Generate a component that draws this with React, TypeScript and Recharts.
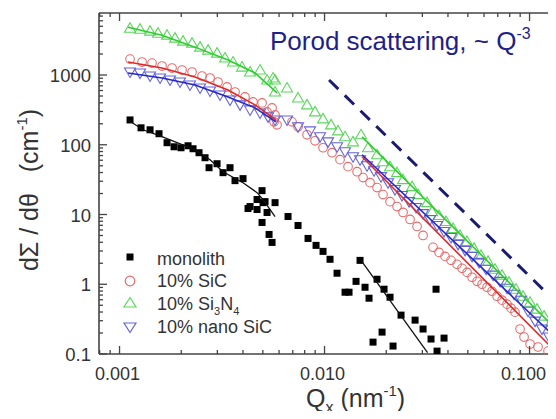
import React from 'react';
import { ScatterChart, Scatter, XAxis, YAxis } from 'recharts';

// axis ranges / ticks
const X_DOMAIN = [0.000794, 0.1346];
const Y_DOMAIN = [0.1, 7750];
const X_TICKS = [0.0008, 0.0009, 0.001, 0.002, 0.003, 0.004, 0.005, 0.006, 0.007, 0.008, 0.009,
  0.01, 0.02, 0.03, 0.04, 0.05, 0.06, 0.07, 0.08, 0.09, 0.1];
const X_LABELS: Record<string, string> = { '0.001': '0.001', '0.01': '0.010', '0.1': '0.100' };
const Y_TICKS = [0.1, 0.2, 0.3, 0.4, 0.5, 0.6, 0.7, 0.8, 0.9, 1, 2, 3, 4, 5, 6, 7, 8, 9,
  10, 20, 30, 40, 50, 60, 70, 80, 90, 100, 200, 300, 400, 500, 600, 700, 800, 900,
  1000, 2000, 3000, 4000, 5000, 6000, 7000];
const Y_LABELS: Record<string, string> = { '0.1': '0.1', '1': '1', '10': '10', '100': '100', '1000': '1000' };

// measured points [Q, dSigma/dOmega]
const monolith = [
  [0.001125, 227], [0.001273, 175], [0.001409, 164], [0.001558, 144], [0.001705, 107], [0.001845, 93.6],
  [0.001995, 90.6], [0.002159, 96.8], [0.002283, 87.7], [0.002442, 76.9], [0.002613, 65.2], [0.002733, 46.9],
  [0.00299, 53.5], [0.003198, 39.8], [0.003459, 46.9], [0.003659, 30.6], [0.004003, 32.7], [0.004234, 12.2],
  [0.004331, 13.0], [0.004686, 16.4], [0.004686, 11.8], [0.004956, 22.0], [0.004956, 7.69], [0.005012, 14.8],
  [0.005126, 15.3], [0.005243, 10.7], [0.005363, 5.18], [0.005546, 3.98], [0.005736, 14.8], [0.006637, 9.36],
  [0.007425, 6.96], [0.008309, 4.54], [0.00909, 3.61], [0.009833, 2.96], [0.010636, 2.28], [0.011508, 1.44],
  [0.012589, 0.769], [0.013167, 0.769], [0.014245, 1.10], [0.014899, 2.20], [0.015759, 0.906], [0.016484, 0.631],
  [0.01724, 0.148], [0.018036, 1.18], [0.01908, 0.206], [0.01951, 0.849], [0.020867, 0.652], [0.021584, 0.130],
  [0.023615, 0.361], [0.027645, 0.306], [0.03024, 0.228], [0.033073, 0.164], [0.034985, 0.849], [0.035383, 0.110],
  [0.038275, 0.169],
];
const sic = [
  [0.001125, 1693], [0.001288, 1535], [0.00144, 1484], [0.001612, 1345], [0.001803, 1259], [0.002018, 1179],
  [0.002258, 1104], [0.002526, 968], [0.002764, 906], [0.003024, 794], [0.003345, 674], [0.003659, 571],
  [0.004094, 485], [0.004479, 411], [0.004956, 398], [0.005243, 296], [0.005546, 338], [0.005736, 268],
  [0.005672, 213], [0.005866, 193], [0.006939, 213], [0.007425, 181], [0.008216, 139], [0.008989, 114],
  [0.009833, 90.6], [0.01088, 76.9], [0.0119, 61.1], [0.01302, 48.5], [0.01441, 41.1], [0.01541, 33.8],
  [0.01667, 28.6], [0.01804, 24.3], [0.01929, 19.3], [0.02087, 15.3], [0.02258, 13.0], [0.02415, 10.7],
  [0.02613, 8.49], [0.02827, 6.74], [0.03024, 5.01], [0.03383, 3.38], [0.03618, 2.86], [0.03871, 2.51],
  [0.0414, 2.20], [0.04429, 1.93], [0.04685, 1.69], [0.04956, 1.48], [0.05243, 1.26], [0.05546, 1.10],
  [0.05866, 1.0], [0.06205, 0.906], [0.06561, 0.794], [0.06939, 0.674], [0.07342, 0.591], [0.07767, 0.518],
  [0.08124, 0.454], [0.08492, 0.398], [0.08989, 0.228], [0.09401, 0.175], [0.1006, 0.139], [0.11, 0.126],
  [0.1231, 0.110],
];
const si3n4 = [
  [0.001125, 4690], [0.001259, 4538], [0.001409, 4254], [0.001541, 3981], [0.001705, 3728], [0.001865, 3381],
  [0.002041, 3060], [0.002258, 2864], [0.00247, 2512], [0.002703, 2275], [0.00299, 2061], [0.00327, 1750],
  [0.003578, 1535], [0.003959, 1300], [0.004331, 1104], [0.004847, 1179], [0.005243, 849], [0.005609, 906],
  [0.005736, 571], [0.005736, 849], [0.006563, 652], [0.007425, 469], [0.008216, 373], [0.008989, 296],
  [0.009833, 235], [0.010757, 193], [0.01164, 158], [0.01259, 130], [0.01377, 110], [0.01507, 139],
  [0.0163, 90.6], [0.01804, 71.9], [0.01929, 57.1], [0.02087, 48.5], [0.02258, 39.8], [0.02415, 31.6],
  [0.02672, 25.1], [0.02858, 19.3], [0.03162, 14.8], [0.03345, 11.0], [0.03618, 9.68], [0.03914, 7.94],
  [0.04236, 6.31], [0.04581, 5.01], [0.04956, 4.11], [0.05363, 3.27], [0.058, 2.59], [0.06276, 2.13],
  [0.06787, 1.64], [0.07342, 1.35], [0.07943, 1.07], [0.08592, 0.849], [0.09296, 0.674], [0.1006, 0.553],
  [0.1088, 0.44], [0.1177, 0.349], [0.1273, 0.286],
];
const nanoSic = [
  [0.001125, 1104], [0.001259, 1068], [0.001409, 968], [0.001576, 906], [0.001763, 849], [0.001973, 794],
  [0.002207, 719], [0.00247, 652], [0.002764, 591], [0.003092, 518], [0.003459, 439], [0.003871, 373],
  [0.004331, 316], [0.004847, 286], [0.005302, 251], [0.005736, 227], [0.006563, 227], [0.007425, 181],
  [0.008497, 158], [0.009506, 130], [0.0104, 110], [0.01151, 93.6], [0.01259, 79.4], [0.01377, 67.4],
  [0.0149, 61.1], [0.01612, 50.1], [0.01744, 42.5], [0.01886, 34.9], [0.02041, 28.6], [0.02207, 22.8],
  [0.02388, 18.7], [0.02584, 15.3], [0.02795, 12.6], [0.03024, 10.3], [0.0327, 8.49], [0.03538, 6.96],
  [0.03827, 5.71], [0.0414, 4.69], [0.04479, 3.73], [0.04847, 3.06], [0.05243, 2.51], [0.05672, 2.06],
  [0.06135, 1.64], [0.06637, 1.35], [0.07179, 1.10], [0.07767, 0.877], [0.08402, 0.719], [0.0909, 0.591],
  [0.09833, 0.411], [0.1064, 0.296], [0.1151, 0.228], [0.1245, 0.175],
];

// fitted curves
const monolithFitLo = [[0.0011, 227], [0.001302, 164], [0.001576, 134], [0.001908, 107], [0.002283, 87.7],
  [0.002764, 61.1], [0.003198, 41.1], [0.004003, 28.6], [0.004686, 20.6], [0.005012, 16.4], [0.005736, 9.36]];
const monolithFitHi = [[0.01507, 2.2], [0.0318, 0.105]];
const si3n4FitLo = [[0.0011, 4850], [0.001612, 3728], [0.002335, 2512], [0.003382, 1638], [0.004581, 1068], [0.005866, 553]];
const sicFitLo = [[0.0011, 1535], [0.001612, 1259], [0.002335, 936], [0.003382, 611], [0.004581, 373], [0.0058, 228]];
const nanoFitLo = [[0.0011, 1068], [0.001612, 906], [0.002335, 719], [0.003382, 485], [0.004581, 338], [0.0058, 213]];
const si3n4FitHi = [[0.01524, 130], [0.1302, 0.251]];
const sicFitHi = [[0.01524, 67.4], [0.1302, 0.118]];
const nanoFitHi = [[0.01524, 71.9], [0.1302, 0.187]];
const porod = [[0.01052, 849], [0.1302, 0.61]];

const pts = (a: number[][]) => a.map(([q, I]) => ({ q, I }));

const FONT = '"Liberation Sans", Arial, Helvetica, sans-serif';
const AXIS = '#444';
const TXT = '#333';

const isMajor = (v: number) => Math.abs(Math.log10(v) - Math.round(Math.log10(v))) < 1e-6;

const BottomTick = (p: any) => {
  const v = p.payload.value;
  const major = isMajor(v);
  const lab = X_LABELS[String(v)];
  // last label sits close to the cut-off right edge
  const shift = v === 0.1 ? -6 : -2;
  return (
    <g>
      <line x1={p.x} x2={p.x} y1={p.y} y2={p.y - (major ? 8 : 4)} stroke={AXIS} strokeWidth={1.3} />
      {lab && (
        <text x={p.x + shift} y={p.y + 26} textAnchor="middle" fontSize={18} fontFamily={FONT} fill={TXT}>{lab}</text>
      )}
    </g>
  );
};

const TopTick = (p: any) => {
  const major = isMajor(p.payload.value);
  return <line x1={p.x} x2={p.x} y1={p.y} y2={p.y + (major ? 8 : 4)} stroke={AXIS} strokeWidth={1.3} />;
};

const LeftTick = (p: any) => {
  const v = p.payload.value;
  const major = isMajor(v);
  const lab = Y_LABELS[String(v)];
  return (
    <g>
      <line x1={p.x} x2={p.x + (major ? 8 : 4)} y1={p.y} y2={p.y} stroke={AXIS} strokeWidth={1.3} />
      {lab && (
        <text x={p.x - 8} y={p.y + 7} textAnchor="end" fontSize={18.5} fontFamily={FONT} fill={TXT}>{lab}</text>
      )}
    </g>
  );
};

const Square = (p: any) => <rect x={p.cx - 3.5} y={p.cy - 3.5} width={7} height={7} fill="#000" />;
const Ring = (p: any) => <circle cx={p.cx} cy={p.cy} r={4.3} fill="none" stroke="#e86a6a" strokeWidth={1.1} />;
const TriUp = (p: any) => (
  <path d={`M${p.cx},${p.cy - 5.5}L${p.cx + 5.5},${p.cy + 4}L${p.cx - 5.5},${p.cy + 4}Z`} fill="none" stroke="#5cd65c" strokeWidth={1.1} />
);
const TriDown = (p: any) => (
  <path d={`M${p.cx},${p.cy + 5.5}L${p.cx + 5.5},${p.cy - 4}L${p.cx - 5.5},${p.cy - 4}Z`} fill="none" stroke="#6464d8" strokeWidth={1.1} />
);
const NoShape = () => <g />;

const fit = (data: number[][], stroke: string, extra: any = {}) => (
  <Scatter data={pts(data)} shape={NoShape} line={{ stroke, strokeWidth: 1.6, ...extra }} isAnimationActive={false} legendType="none" />
);

export default function App() {
  return (
    <div style={{ position: 'relative', width: 548, height: 411, overflow: 'hidden', marginBottom: -8 }}>
      <ScatterChart width={548} height={411} margin={{ top: 0, right: 0, bottom: 0, left: 0 }}>
        <XAxis dataKey="q" type="number" scale="log" domain={X_DOMAIN} allowDataOverflow ticks={X_TICKS} interval={0}
          tickSize={0} tickMargin={0} tickLine={false} height={65} axisLine={{ stroke: AXIS, strokeWidth: 1.6 }} tick={BottomTick} />
        <XAxis xAxisId="top" orientation="top" dataKey="q" type="number" scale="log" domain={X_DOMAIN} allowDataOverflow ticks={X_TICKS} interval={0}
          tickSize={0} tickMargin={0} tickLine={false} height={5} axisLine={{ stroke: AXIS, strokeWidth: 1.6 }} tick={TopTick} />
        <YAxis dataKey="I" type="number" scale="log" domain={Y_DOMAIN} allowDataOverflow ticks={Y_TICKS} interval={0}
          tickSize={0} tickMargin={0} tickLine={false} width={91} axisLine={{ stroke: AXIS, strokeWidth: 1.6 }} tick={LeftTick} />
        <Scatter data={pts(monolith)} shape={Square} isAnimationActive={false} />
        <Scatter data={pts(sic)} shape={Ring} isAnimationActive={false} />
        <Scatter data={pts(si3n4)} shape={TriUp} isAnimationActive={false} />
        <Scatter data={pts(nanoSic)} shape={TriDown} isAnimationActive={false} />
        {fit(monolithFitLo, '#111', { strokeWidth: 1.3 })}
        {fit(monolithFitHi, '#111', { strokeWidth: 1.3 })}
        {fit(si3n4FitLo, '#2fcc2f')}
        {fit(sicFitLo, '#e02828')}
        {fit(nanoFitLo, '#2626c8')}
        {fit(si3n4FitHi, '#2fcc2f')}
        {fit(sicFitHi, '#e02828')}
        {fit(nanoFitHi, '#2626c8')}
        {fit(porod, '#1c1c6e', { strokeWidth: 3, strokeDasharray: '13 9' })}
      </ScatterChart>
      <svg width={548} height={411} style={{ position: 'absolute', left: 0, top: 0, pointerEvents: 'none' }} fontFamily={FONT}>
        <text x={262} y={42} fontSize={26} fill="#1f1f8a">
          Porod scattering, ~ Q<tspan dy={-11} fontSize={16}>-3</tspan>
        </text>
        <g fontSize={18} fill={TXT}>
          <rect x={118.5} y={245.5} width={7} height={7} fill="#000" />
          <text x={149} y={257}>monolith</text>
          <circle cx={122} cy={273} r={4.8} fill="none" stroke="#e86a6a" strokeWidth={1.2} />
          <text x={149} y={279}>10% SiC</text>
          <path d="M122,289.5L128,299L116,299Z" fill="none" stroke="#5cd65c" strokeWidth={1.2} />
          <text x={149} y={302}>10% Si<tspan dy={5} fontSize={11}>3</tspan><tspan dy={-5}>N</tspan><tspan dy={5} fontSize={11}>4</tspan></text>
          <path d="M122,324.5L128,315L116,315Z" fill="none" stroke="#6464d8" strokeWidth={1.2} />
          <text x={149} y={325}>10% nano SiC</text>
        </g>
        <text x={298} y={399} fontSize={25} fill={TXT}>
          Q<tspan dy={6} fontSize={16}>x</tspan><tspan dy={-6}> (nm</tspan><tspan dy={-11} fontSize={15}>-1</tspan><tspan dy={11}>)</tspan>
        </text>
        <text transform="translate(30,182) rotate(-90)" textAnchor="middle" fontSize={25} fill={TXT}>
          dΣ / dθ{'\u00a0\u00a0\u00a0'}(cm<tspan dy={-11} fontSize={15}>-1</tspan><tspan dy={11}>)</tspan>
        </text>
      </svg>
    </div>
  );
}
